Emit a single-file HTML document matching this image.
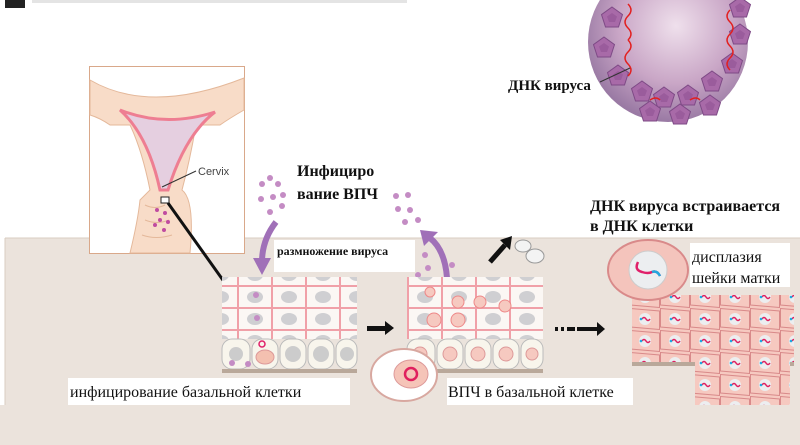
<!DOCTYPE html>
<html><head><meta charset="utf-8"><style>
html,body{margin:0;padding:0;width:800px;height:445px;overflow:hidden;background:#fff}
svg{display:block}
.s{font-family:"Liberation Serif","DejaVu Serif",serif}
</style></head><body>
<svg width="800" height="445" viewBox="0 0 800 445" class="s">
<defs>
<radialGradient id="vg" cx="0.55" cy="0.4" r="0.6"><stop offset="0" stop-color="#efe0ec"/><stop offset="0.6" stop-color="#c9a6c6"/><stop offset="1" stop-color="#9a7aa4"/></radialGradient>
<pattern id="cells" width="34" height="22" patternUnits="userSpaceOnUse">
<rect width="34" height="22" fill="#fbf7f4"/><rect x="0.5" y="0.5" width="33" height="21" fill="none" stroke="#f0a0a8" stroke-width="1"/><ellipse cx="17" cy="11" rx="8" ry="6" fill="#cfcfd2"/></pattern>
<pattern id="dcells" width="30" height="22" patternUnits="userSpaceOnUse">
<rect width="30" height="22" fill="#f6c9c0"/><path d="M0.5 0.5 L29.5 3 L29.5 21.5 L0.5 19 Z" fill="none" stroke="#d98a8a" stroke-width="1"/><circle cx="15" cy="11" r="6" fill="#eceef0"/><path d="M12 11 q2 -3 4 0 t4 0" stroke="#e02060" fill="none" stroke-width="1.5"/><circle cx="11" cy="11" r="1.3" fill="#20a8e0"/></pattern>
<g id="pent"><polygon points="0,-11 10.5,-3.4 6.5,9 -6.5,9 -10.5,-3.4" fill="#a86aa8" stroke="#7e4a86"/><polygon points="0,-5 5,-1.5 3,4 -3,4 -5,-1.5" fill="#9a5c9c"/></g>
</defs>
<rect x="0" y="238" width="800" height="207" fill="#ebe3dc"/>
<rect x="0" y="238" width="5" height="167" fill="#fff"/>
<line x1="5" y1="238" x2="5" y2="405" stroke="#d8ccc2"/>
<line x1="5" y1="238" x2="800" y2="238" stroke="#d8ccc2"/>
<rect x="5" y="0" width="20" height="8" fill="#222"/>
<rect x="32" y="0" width="375" height="3" fill="#e4e4e4"/>
<!-- virus -->
<circle cx="668" cy="42" r="80" fill="url(#vg)"/>
<use href="#pent" x="612" y="18"/><use href="#pent" x="604" y="48"/><use href="#pent" x="618" y="76"/>
<use href="#pent" x="642" y="92"/><use href="#pent" x="664" y="98"/><use href="#pent" x="688" y="96"/>
<use href="#pent" x="712" y="82"/><use href="#pent" x="732" y="64"/><use href="#pent" x="740" y="35"/>
<use href="#pent" x="740" y="8"/><use href="#pent" x="650" y="112"/><use href="#pent" x="680" y="115"/><use href="#pent" x="710" y="106"/>
<path d="M628 40 q6 -6 0 -12 q-6 -6 0 -12 q6 -6 0 -12 M628 40 q6 6 0 12 q-6 6 0 12 q6 6 0 12 M730 10 q-6 6 0 12 q6 6 0 12 q-6 6 0 12 q6 6 0 12 q-6 6 0 12 M650 100 q6 -4 10 0 M690 100 q6 -4 10 0" stroke="#e22020" fill="none" stroke-width="1.5"/>
<line x1="600" y1="82" x2="630" y2="68" stroke="#333"/>
<text x="508" y="90" font-size="15" font-weight="bold" fill="#111">ДНК вируса</text>
<!-- cervix -->
<rect x="89.5" y="66.5" width="155" height="187" fill="#fff" stroke="#d9a88a"/>
<path d="M90 80 Q150 115 244 78 L244 110 Q230 118 220 125 L196 125 Q190 160 182 190 Q195 200 190 253 L130 253 Q138 220 140 200 L150 190 Q142 150 130 125 L110 125 Q100 118 90 115 Z" fill="#f8dcc8" stroke="#e4b89a"/>
<path d="M120 110 Q165 128 215 112 Q185 135 168 190 L160 190 Q148 135 120 110 Z" fill="#e5cfe0" stroke="#ee7e92" stroke-width="3"/>
<path d="M145 205 q10 5 20 0 M145 220 q12 5 24 0 M142 235 q14 5 30 0" stroke="#e4b89a" fill="none"/>
<rect x="161" y="197" width="8" height="6" fill="#fff" stroke="#222"/>
<line x1="162" y1="187" x2="196" y2="171" stroke="#333"/>
<text x="198" y="175" font-family="Liberation Sans,sans-serif" font-size="11" fill="#444">Cervix</text>
<g fill="#c04ca0"><circle cx="157" cy="210" r="2"/><circle cx="165" cy="213" r="2"/><circle cx="160" cy="220" r="2"/><circle cx="168" cy="222" r="2"/><circle cx="155" cy="225" r="2"/><circle cx="164" cy="230" r="2"/></g>
<line x1="168" y1="203" x2="230" y2="290" stroke="#111" stroke-width="3"/>
<text x="297" y="176" font-size="16" font-weight="bold" fill="#111">Инфициро</text>
<text x="297" y="199" font-size="16" font-weight="bold" fill="#111">вание ВПЧ</text>
<g fill="#c48cc4"><circle cx="262" cy="184" r="3"/><circle cx="270" cy="178" r="3"/><circle cx="278" cy="184" r="3"/><circle cx="261" cy="199" r="3"/><circle cx="273" cy="197" r="3"/><circle cx="283" cy="195" r="3"/><circle cx="270" cy="212" r="3"/><circle cx="282" cy="206" r="3"/><circle cx="396" cy="196" r="3"/><circle cx="408" cy="195" r="3"/><circle cx="398" cy="209" r="3"/><circle cx="410" cy="210" r="3"/><circle cx="405" cy="222" r="3"/><circle cx="418" cy="220" r="3"/><circle cx="425" cy="255" r="3"/><circle cx="428" cy="268" r="3"/><circle cx="418" cy="275" r="3"/><circle cx="452" cy="265" r="3"/></g>
<path d="M276 222 Q262 240 262 262" stroke="#a070b8" stroke-width="6" fill="none"/>
<polygon points="253,258 271,258 262,275" fill="#a070b8"/>
<path d="M447 278 Q445 250 430 238" stroke="#a070b8" stroke-width="6" fill="none"/>
<polygon points="420,230 438,232 424,246" fill="#a070b8"/>
<rect x="274" y="240" width="141" height="32" fill="#fff"/>
<text x="277" y="255" font-size="12" font-weight="bold" fill="#111">размножение вируса</text>
<!-- block 1 -->
<rect x="222" y="277" width="135" height="62" fill="url(#cells)"/>
<g stroke="#bbb" fill="#f8f5ec"><rect x="222" y="339" width="28" height="30" rx="10"/><rect x="252" y="339" width="26" height="30" rx="10"/><rect x="280" y="339" width="26" height="30" rx="10"/><rect x="308" y="339" width="26" height="30" rx="10"/><rect x="336" y="339" width="21" height="30" rx="10"/></g>
<g fill="#ccc"><circle cx="236" cy="354" r="7"/><circle cx="293" cy="354" r="8"/><circle cx="321" cy="354" r="8"/><circle cx="347" cy="354" r="7"/></g>
<ellipse cx="265" cy="357" rx="9" ry="7" fill="#f4c0b0" stroke="#d99"/><circle cx="262" cy="344" r="3" fill="none" stroke="#e0206a" stroke-width="1.5"/>
<g fill="#c48cc4"><circle cx="256" cy="295" r="3"/><circle cx="257" cy="318" r="3"/><circle cx="232" cy="363" r="3"/><circle cx="248" cy="364" r="3"/></g>
<rect x="222" y="369" width="135" height="4" fill="#b9a89a"/>
<rect x="367" y="326" width="18" height="5" fill="#111"/><polygon points="385,321 394,328 385,335" fill="#111"/>
<line x1="490" y1="262" x2="505" y2="245" stroke="#111" stroke-width="5"/><polygon points="500,240 512,236 510,250" fill="#111"/>
<g fill="#f3f3f3" stroke="#999"><ellipse cx="523" cy="246" rx="8" ry="6"/><ellipse cx="535" cy="256" rx="9" ry="7"/></g>
<rect x="555" y="327" width="3" height="4" fill="#111"/><rect x="561" y="327" width="3" height="4" fill="#111"/><rect x="567" y="327" width="8" height="4" fill="#111"/><rect x="577" y="327" width="20" height="4" fill="#111"/><polygon points="597,322 605,329 597,336" fill="#111"/>
<!-- block 2 -->
<rect x="407" y="277" width="136" height="62" fill="url(#cells)"/>
<g fill="#f6c9c0" stroke="#e88"><circle cx="430" cy="292" r="5"/><circle cx="458" cy="302" r="6"/><circle cx="480" cy="302" r="6"/><circle cx="505" cy="306" r="6"/><circle cx="434" cy="320" r="7"/><circle cx="458" cy="320" r="7"/></g>
<g stroke="#bbb" fill="#f8f5ec"><rect x="407" y="339" width="28" height="30" rx="10"/><rect x="437" y="339" width="26" height="30" rx="10"/><rect x="465" y="339" width="26" height="30" rx="10"/><rect x="493" y="339" width="26" height="30" rx="10"/><rect x="521" y="339" width="22" height="30" rx="10"/></g>
<g fill="#f6c9c0" stroke="#d99"><circle cx="420" cy="354" r="7"/><circle cx="450" cy="354" r="7"/><circle cx="478" cy="354" r="7"/><circle cx="506" cy="354" r="7"/><circle cx="532" cy="354" r="6"/></g>
<rect x="407" y="369" width="136" height="4" fill="#b9a89a"/>
<ellipse cx="404" cy="375" rx="33" ry="26" fill="#fff" stroke="#d8a8a0" stroke-width="2"/>
<ellipse cx="411" cy="374" rx="17" ry="14" fill="#f5c4b8" stroke="#d99"/>
<circle cx="411" cy="374" r="6" fill="none" stroke="#e0205e" stroke-width="2.5"/>
<!-- block 3 -->
<rect x="632" y="295" width="162" height="67" fill="url(#dcells)"/>
<rect x="632" y="362" width="162" height="4" fill="#b9a89a"/>
<rect x="695" y="362" width="95" height="43" fill="url(#dcells)"/>
<ellipse cx="648" cy="270" rx="40" ry="30" fill="#f4c4bc" stroke="#d98a8a" stroke-width="2"/>
<circle cx="648" cy="270" r="19" fill="#eceef0" stroke="#ccc"/>
<path d="M638 262 q-4 8 4 10 q6 2 10 0 q5 -2 8 4" stroke="#e0206a" stroke-width="2.5" fill="none"/>
<path d="M652 272 q5 -2 8 4" stroke="#20a8e0" stroke-width="2.5" fill="none"/>
<text x="590" y="211" font-size="16" font-weight="bold" fill="#111">ДНК вируса встраивается</text>
<text x="590" y="231" font-size="16" font-weight="bold" fill="#111">в ДНК клетки</text>
<rect x="690" y="243" width="100" height="44" fill="#fff"/>
<text x="692" y="262" font-size="16" fill="#111">дисплазия</text>
<text x="692" y="283" font-size="16" fill="#111">шейки матки</text>
<rect x="68" y="378" width="282" height="27" fill="#fff"/>
<text x="70" y="397" font-size="16" fill="#111">инфицирование базальной клетки</text>
<rect x="447" y="378" width="186" height="27" fill="#fff"/>
<text x="448" y="397" font-size="16" fill="#111">ВПЧ в базальной клетке</text>
</svg>
</body></html>
